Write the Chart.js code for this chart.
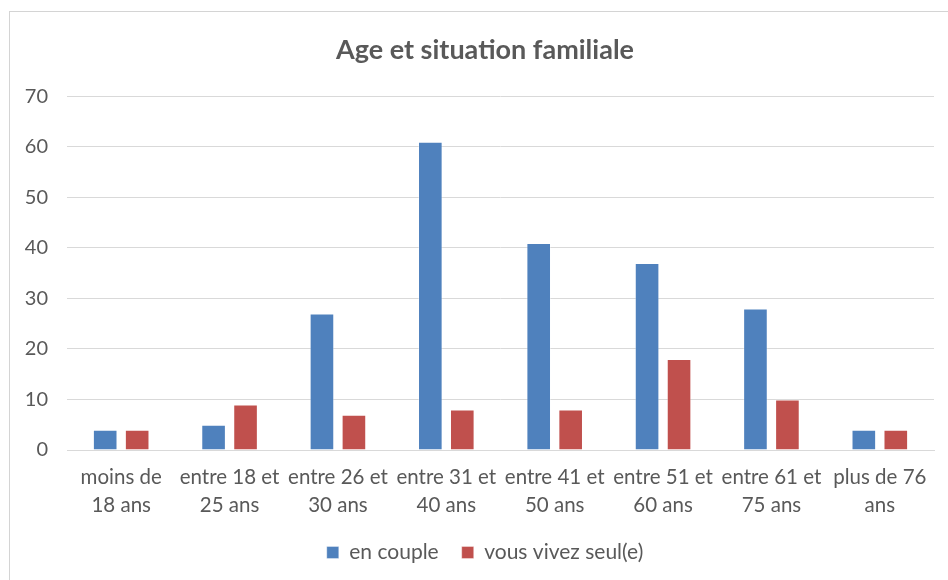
<!DOCTYPE html>
<html>
<head>
<meta charset="utf-8">
<script src="https://cdn.jsdelivr.net/npm/chart.js@4/dist/chart.umd.min.js"></script>
<style>
  html, body { margin: 0; padding: 0; background: #fff; }
  #wrap { position: relative; width: 948px; height: 580px; overflow: hidden; }
  #frame { position: absolute; left: 9px; top: 11px; width: 960px; height: 600px; border: 1px solid #d4d4d4; pointer-events: none; }
  canvas { position: absolute; left: 0; top: 0; }
</style>
</head>
<body>
<div id="wrap">
  <canvas id="c" width="948" height="580"></canvas>
  <div id="frame"></div>
</div>
<script>
const chartTitle = "Age et situation familiale";
const categories = [
  ["moins de", "18 ans"],
  ["entre 18 et", "25 ans"],
  ["entre 26 et", "30 ans"],
  ["entre 31 et", "40 ans"],
  ["entre 41 et", "50 ans"],
  ["entre 51 et", "60 ans"],
  ["entre 61 et", "75 ans"],
  ["plus de 76", "ans"]
];
const seriesNames = ["en couple", "vous vivez seul(e)"];
const enCouple = [4, 5, 27, 61, 41, 37, 28, 4];
const seul = [4, 9, 7, 8, 8, 18, 10, 4];
const yMin = 0, yMax = 70, yStep = 10;

const textColor = "#595959";
const fontFamily = "Lato, 'Open Sans', sans-serif";

new Chart(document.getElementById("c"), {
  type: "bar",
  data: {
    labels: categories,
    datasets: [
      { label: seriesNames[0], data: enCouple, backgroundColor: "#4F81BD", borderColor: "rgba(255,255,255,0.35)", borderWidth: 1, yAxisID: "y" },
      { label: seriesNames[1], data: seul, backgroundColor: "#C0504D", borderColor: "rgba(255,255,255,0.35)", borderWidth: 1, yAxisID: "y" }
    ]
  },
  options: {
    responsive: false,
    animation: false,
    devicePixelRatio: 1,
    layout: { padding: { left: 0, right: -22, top: 20, bottom: 7 } },
    datasets: { bar: { categoryPercentage: 0.59, barPercentage: 0.77 } },
    plugins: {
      title: {
        display: true,
        text: chartTitle,
        color: textColor,
        font: { family: fontFamily, size: 27, weight: "bold" },
        padding: { top: 14, bottom: 30 }
      },
      legend: {
        position: "bottom",
        labels: {
          color: textColor,
          font: { family: fontFamily, size: 21 },
          boxWidth: 12,
          boxHeight: 12,
          padding: 23
        }
      },
      tooltip: { enabled: false }
    },
    scales: {
      x: {
        grid: { display: false, drawTicks: false },
        border: { display: true, color: "#d9d9d9", width: 1 },
        ticks: { color: textColor, font: { family: fontFamily, size: 20.5, lineHeight: 1.33 }, padding: 14, maxRotation: 0, autoSkip: false },
        afterFit: (s) => { s.height = 69; }
      },
      y: {
        position: "left",
        min: yMin, max: yMax,
        grid: { color: "#d9d9d9", lineWidth: 1, drawTicks: false },
        border: { display: false },
        ticks: { stepSize: yStep, color: textColor, font: { family: fontFamily, size: 20 }, padding: 19 },
        afterFit: (s) => { s.width = 67; }
      },
      yRight: {
        position: "right",
        display: true,
        grid: { display: false, drawTicks: false },
        border: { display: false },
        ticks: { display: false },
        afterFit: (s) => { s.width = 36; }
      }
    }
  }
});
</script>
</body>
</html>
